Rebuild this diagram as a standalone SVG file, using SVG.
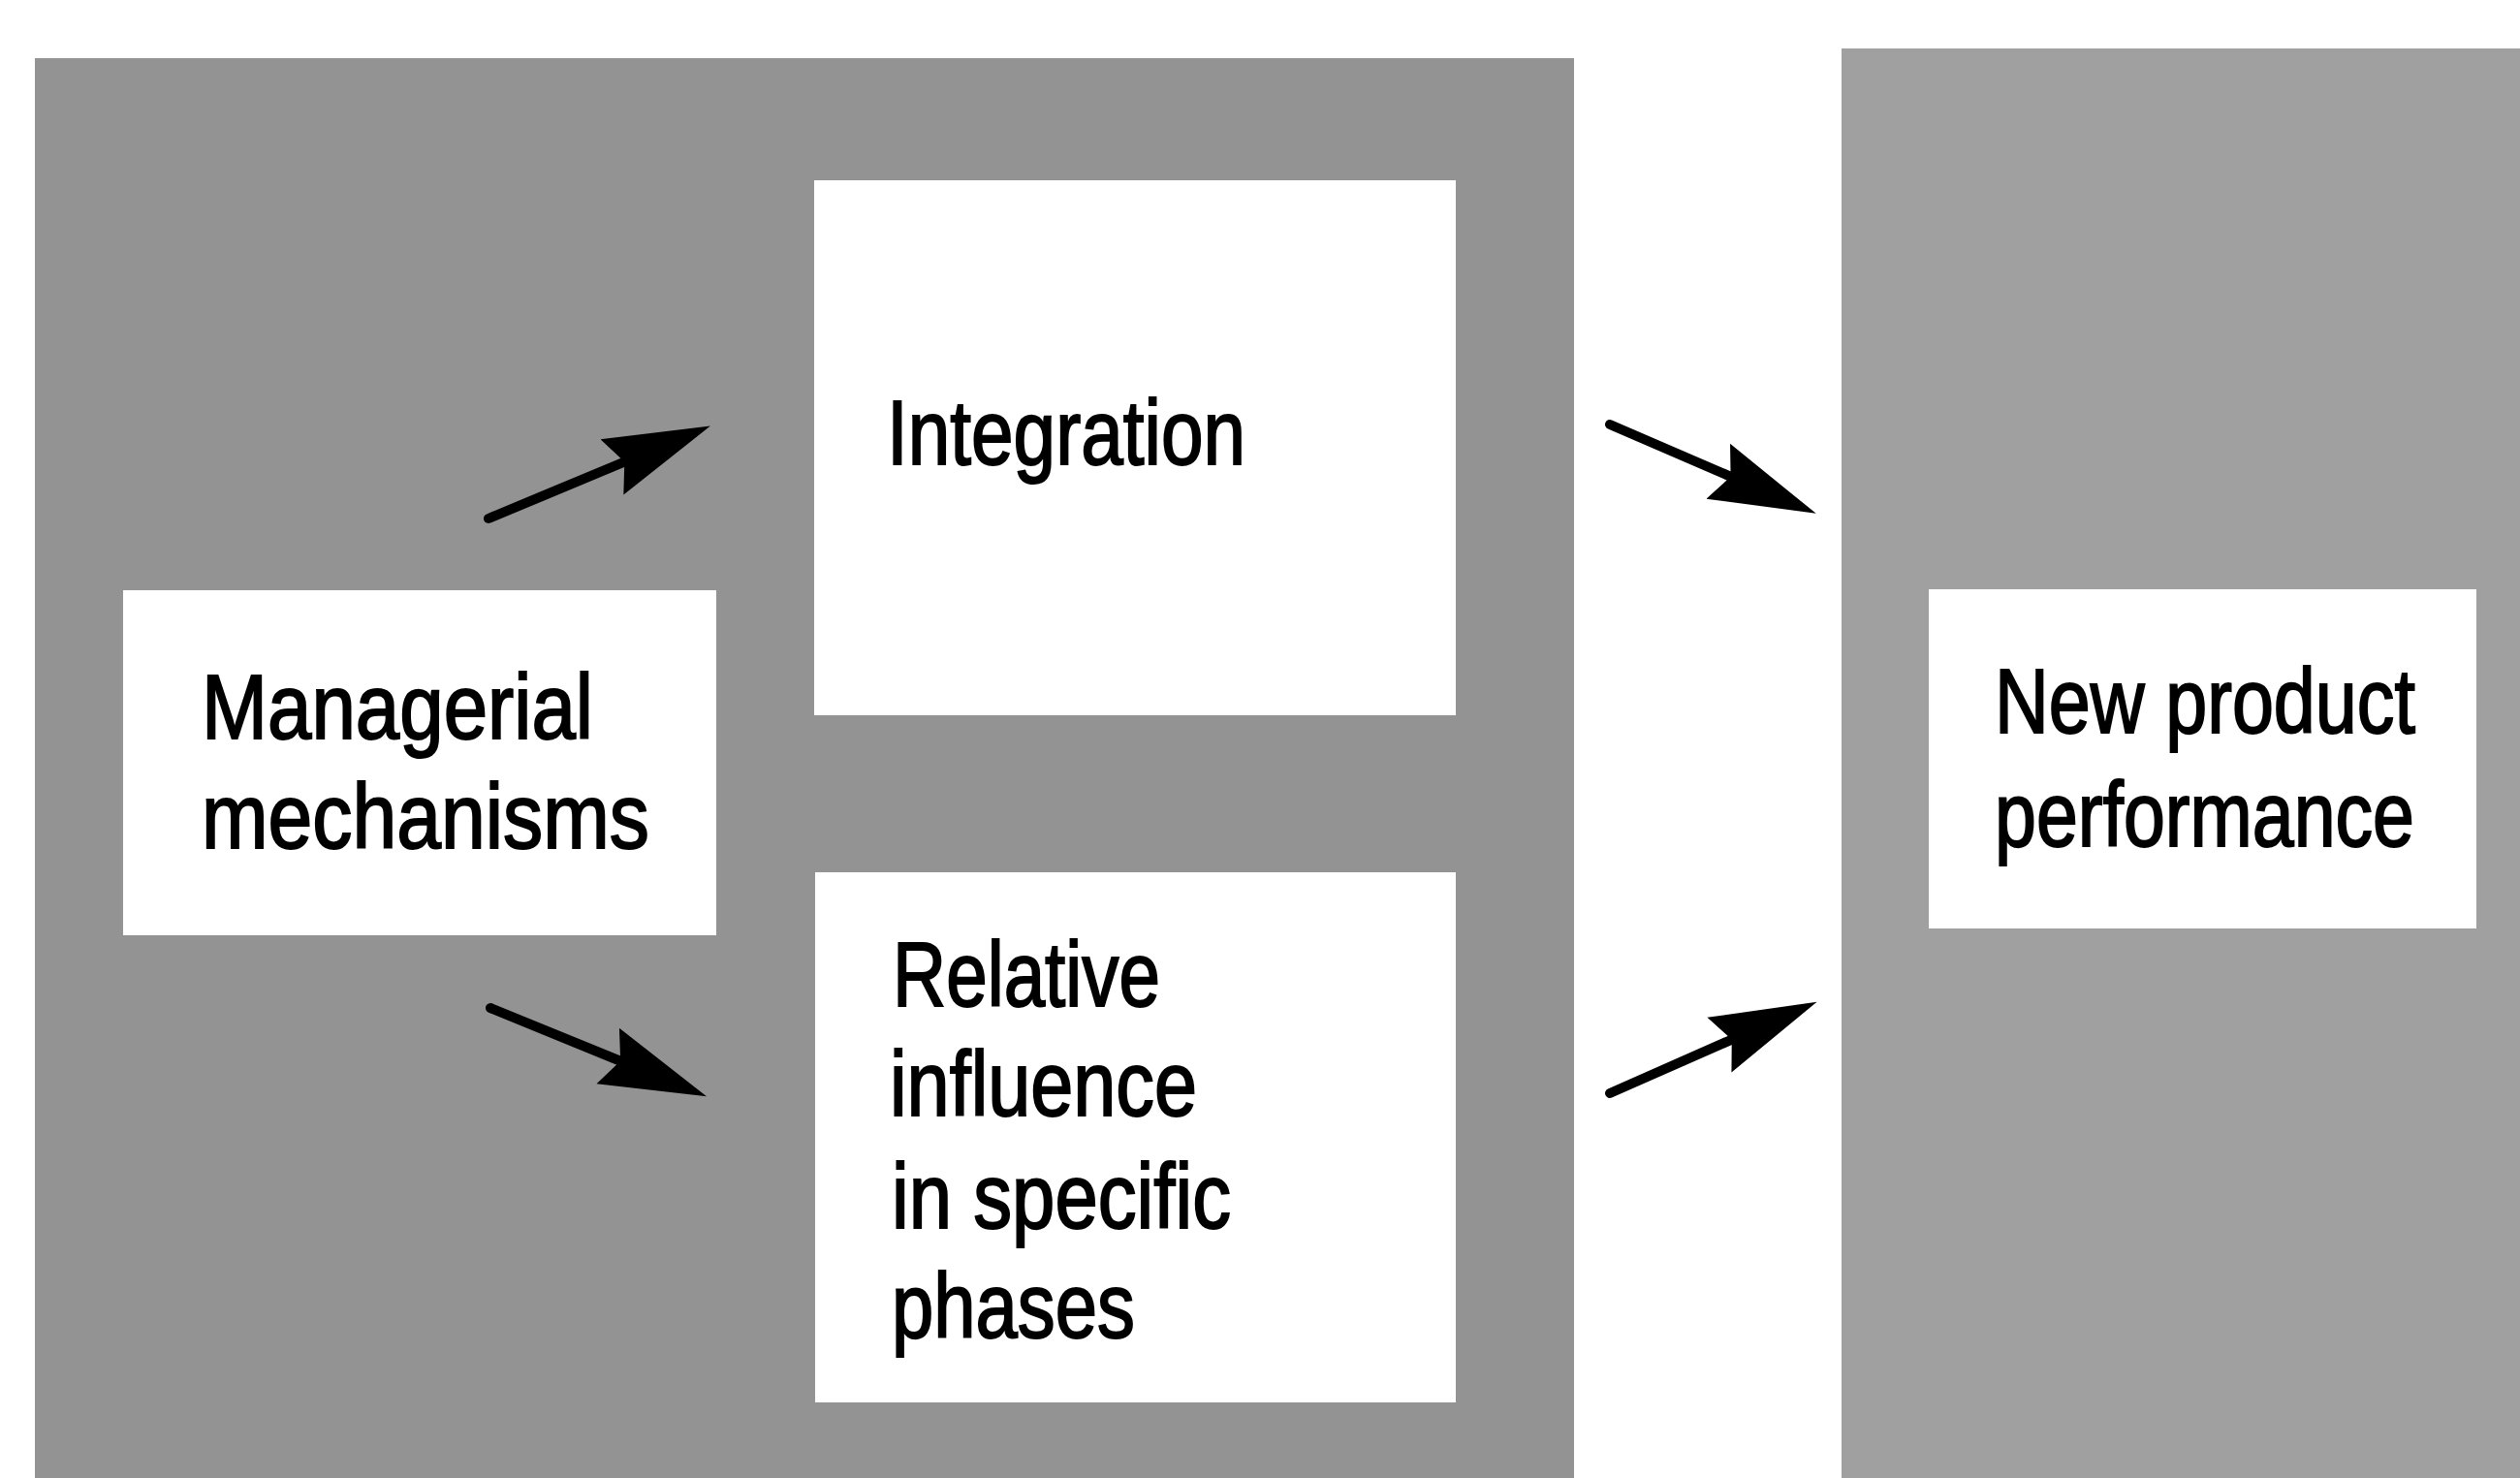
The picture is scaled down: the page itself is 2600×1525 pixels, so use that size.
<svg xmlns="http://www.w3.org/2000/svg" width="2600" height="1525" viewBox="0 0 2600 1525">
  <style>
    .panelL { fill: #939393; }
    .panelR { fill: #a0a0a0; }
    .box { fill: #ffffff; }
    .lbl { font-family: "Liberation Sans", Arial, sans-serif; font-size: 95px; fill: #000; stroke: #000; stroke-width: 2; }
    .conn { stroke: #000; stroke-width: 10; stroke-linecap: round; fill: none; marker-end: url(#head); }
  </style>
  <defs>
    <marker id="head" markerUnits="userSpaceOnUse" markerWidth="112" markerHeight="64" viewBox="0 0 112 64" refX="70" refY="32" orient="auto">
      <path d="M0,1 L110,32 L0,63 L14,32 z" fill="#000"/>
    </marker>
  </defs>
  <rect x="0" y="0" width="2600" height="1525" fill="#ffffff"/>
  <g id="panel-left"><rect class="panelL" x="36" y="60" width="1588" height="1465"/></g>
  <g id="panel-right"><rect class="panelR" x="1900" y="50" width="700" height="1475"/></g>

  <g id="node-managerial">
    <rect class="box" x="127" y="609" width="612" height="356"/>
    <text class="lbl" x="208" y="762" textLength="404" lengthAdjust="spacingAndGlyphs">Managerial</text>
    <text class="lbl" x="208" y="875" textLength="462" lengthAdjust="spacingAndGlyphs">mechanisms</text>
  </g>
  <g id="node-integration">
    <rect class="box" x="840" y="186" width="662" height="552"/>
    <text class="lbl" x="915" y="479" textLength="370" lengthAdjust="spacingAndGlyphs">Integration</text>
  </g>
  <g id="node-relative">
    <rect class="box" x="841" y="900" width="661" height="547"/>
    <text class="lbl" x="921" y="1038" textLength="276" lengthAdjust="spacingAndGlyphs">Relative</text>
    <text class="lbl" x="918" y="1151" textLength="317" lengthAdjust="spacingAndGlyphs">influence</text>
    <text class="lbl" x="920" y="1267" textLength="350" lengthAdjust="spacingAndGlyphs">in specific</text>
    <text class="lbl" x="920" y="1380" textLength="251" lengthAdjust="spacingAndGlyphs">phases</text>
  </g>
  <g id="node-performance">
    <rect class="box" x="1990" y="608" width="565" height="350"/>
    <text class="lbl" x="2058" y="756" textLength="434" lengthAdjust="spacingAndGlyphs">New product</text>
    <text class="lbl" x="2058" y="873" textLength="433" lengthAdjust="spacingAndGlyphs">performance</text>
  </g>

  <g id="connectors">
    <line class="conn" x1="504" y1="535" x2="696" y2="455"/>
    <line class="conn" x1="506" y1="1040" x2="692" y2="1116"/>
    <line class="conn" x1="1661" y1="438" x2="1837" y2="514"/>
    <line class="conn" x1="1661" y1="1128" x2="1838" y2="1050"/>
  </g>
</svg>
